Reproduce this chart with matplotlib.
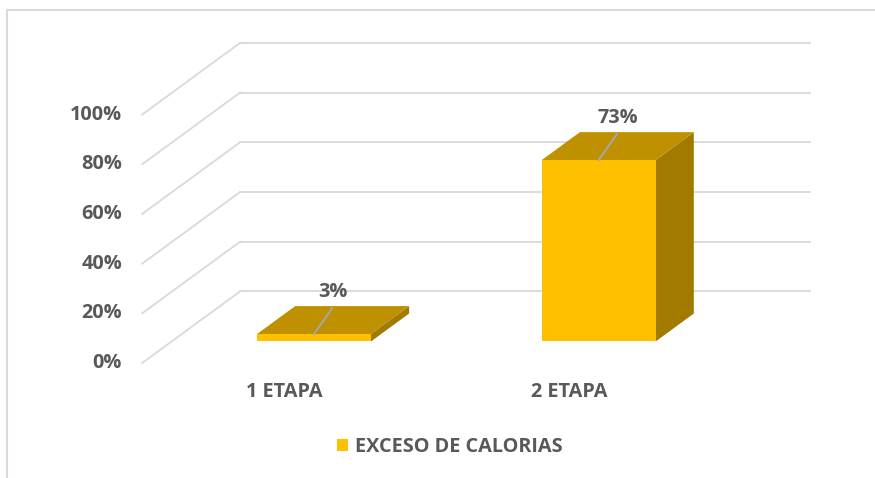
import matplotlib
matplotlib.use("Agg")
import matplotlib.pyplot as plt
from matplotlib.patches import Polygon, Rectangle

# data
categories = ["1 ETAPA", "2 ETAPA"]
values = [3, 73]
series_name = "EXCESO DE CALORIAS"
y_ticks = [0, 20, 40, 60, 80, 100]
y_tick_labels = ["0%", "20%", "40%", "60%", "80%", "100%"]
value_labels = ["3%", "73%"]

# 3d look: oblique offset of the full depth, in data units
DEPTH_DX = 0.344
DEPTH_DY = 28.85
BAR_W = 0.4
D_FRONT, D_BACK = 0.3, 0.69

FRONT = "#FFC000"
TOP = "#BF9000"
SIDE = "#A37A00"
GRID = "#D9D9D9"
TXT = "#595959"
FS = 14.3

plt.rcParams['font.family'] = ['Open Sans', 'DejaVu Sans']


def proj(x, y, d):
    return (x + d * DEPTH_DX, y + d * DEPTH_DY)


fig = plt.figure(figsize=(8.75, 4.78), dpi=100)
ax = fig.add_axes([0, 0, 1, 1])
ax.set_xlim(0.0004, 3.0738)
ax.set_ylim(-46.28, 146.08)
ax.axis("off")

x_left = 0.5
x_right = len(categories) + 0.5

# back wall lines and side diagonals
for t, lab in zip(y_ticks, y_tick_labels):
    bx0, by0 = proj(x_left, t, 1)
    bx1, by1 = proj(x_right, t, 1)
    ax.plot([bx0, bx1], [by0, by1], color=GRID, lw=1.3, zorder=1)
    fx, fy = proj(x_left, t, 0)
    ax.plot([fx, bx0], [fy, by0], color=GRID, lw=1.3, zorder=1)
    ax.annotate(lab, (fx, fy), xytext=(-14.5, 0), textcoords="offset points",
                ha="right", va="center", fontsize=FS, fontweight="bold", color=TXT)

handles = []
for i, (cat, v, vl) in enumerate(zip(categories, values, value_labels)):
    xc = i + 1
    xl, xr = xc - BAR_W / 2, xc + BAR_W / 2
    front = Polygon([proj(xl, 0, D_FRONT), proj(xr, 0, D_FRONT),
                     proj(xr, v, D_FRONT), proj(xl, v, D_FRONT)],
                    closed=True, facecolor=FRONT, edgecolor="none", zorder=3,
                    label=series_name)
    top = Polygon([proj(xl, v, D_FRONT), proj(xr, v, D_FRONT),
                   proj(xr, v, D_BACK), proj(xl, v, D_BACK)],
                  closed=True, facecolor=TOP, edgecolor="none", zorder=3)
    side = Polygon([proj(xr, 0, D_FRONT), proj(xr, 0, D_BACK),
                    proj(xr, v, D_BACK), proj(xr, v, D_FRONT)],
                   closed=True, facecolor=SIDE, edgecolor="none", zorder=3)
    for p in (side, top, front):
        ax.add_patch(p)
    if i == 0:
        handles.append(front)

    # leader line + value label
    s = proj(xc, v, D_FRONT)
    e = proj(xc - 0.06, v, D_BACK - 0.03)
    ax.plot([s[0], e[0]], [s[1], e[1]], color="#A6A6A6", lw=1.5, zorder=4)
    lx, ly = proj(xc, v, (D_FRONT + D_BACK) / 2)
    ax.annotate(vl, (lx, ly), xytext=(0, 20.5), textcoords="offset points",
                ha="center", va="center", fontsize=FS, fontweight="bold", color=TXT)

    # category label
    cx, cy = proj(xc, 0, 0)
    ax.annotate(cat, (cx, cy), xytext=(0, -21.2), textcoords="offset points",
                ha="center", va="center", fontsize=FS, fontweight="bold", color=TXT)

leg = fig.legend(handles=handles, loc="center", bbox_to_anchor=(0.514, 0.065),
                 frameon=False, fontsize=FS, handlelength=0.55, handleheight=0.55,
                 handletextpad=0.35)
for t in leg.get_texts():
    t.set_color(TXT)
    t.set_fontweight("bold")

# chart area frame (right/bottom edges cut off in the original)
fig.patches.append(Rectangle((7 / 875, -0.1), 1.2, 1.1 - 10 / 478, transform=fig.transFigure,
                             fill=False, edgecolor=GRID, lw=1.5, zorder=0))

fig.savefig("out.png", dpi=100)
